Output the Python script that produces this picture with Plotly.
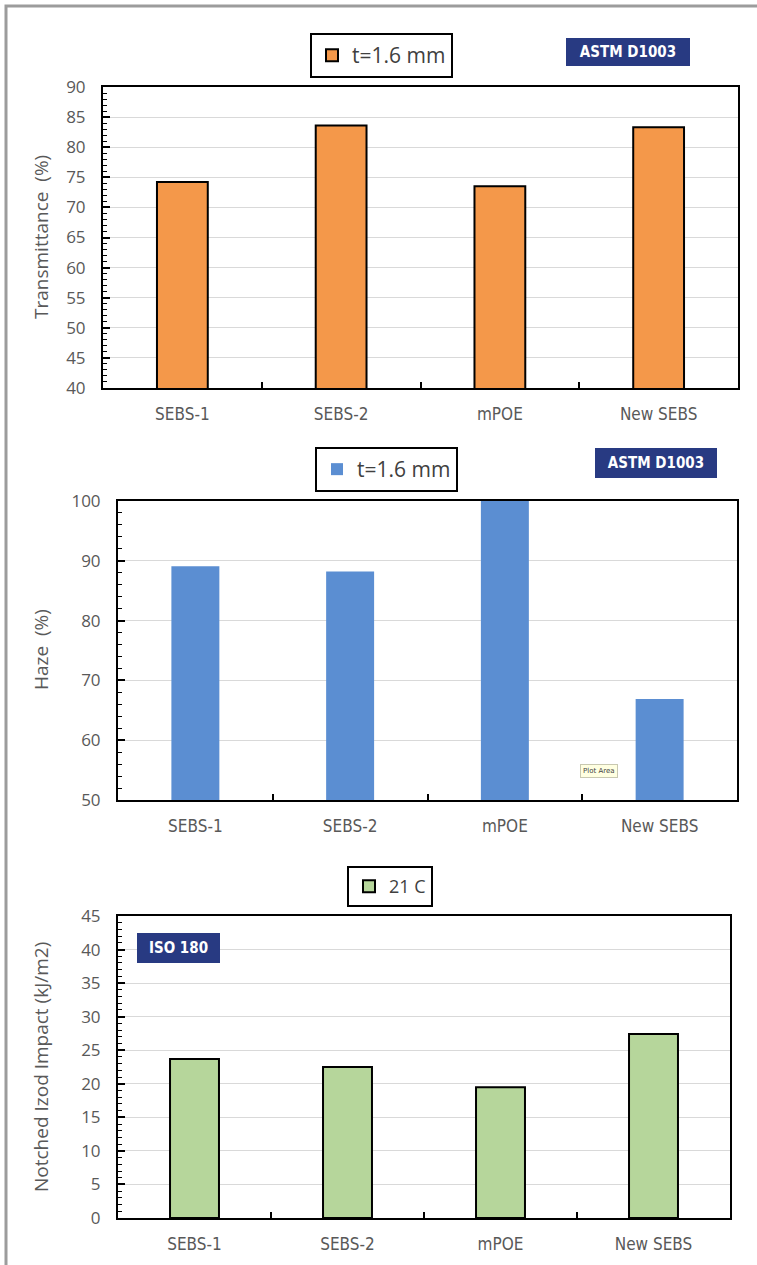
import plotly.graph_objects as go

W, H = 757, 1265

categories = ["SEBS-1", "SEBS-2", "mPOE", "New SEBS"]
transmittance = [74.2, 83.6, 73.5, 83.3]
haze = [89.1, 88.2, 100.0, 66.9]
izod = [23.7, 22.5, 19.5, 27.4]

legend_names = ["t=1.6 mm", "t=1.6 mm", "21 C"]
y_titles = ["Transmittance  (%)", "Haze  (%)", "Notched Izod Impact (kJ/m2)"]


def px(x):
    return x / W


def py(y):
    return 1 - y / H


fig = go.Figure()

fig.add_trace(go.Bar(x=categories, y=transmittance, name=legend_names[0],
                     marker=dict(color="#F4984A", line=dict(color="black", width=2)),
                     width=0.32, xaxis="x", yaxis="y", legend="legend", showlegend=True))
fig.add_trace(go.Bar(x=categories, y=haze, name=legend_names[1],
                     marker=dict(color="#5B8ED2", line=dict(width=0)),
                     width=0.31, xaxis="x2", yaxis="y2", legend="legend2", showlegend=True))
fig.add_trace(go.Bar(x=categories, y=izod, name=legend_names[2],
                     marker=dict(color="#B6D69B", line=dict(color="black", width=2)),
                     width=0.32, xaxis="x3", yaxis="y3", legend="legend3", showlegend=True))

tick_font = dict(family="Open Sans", size=17, color="#595959")
xtick_font = dict(family="Liberation Sans Narrow, DejaVu Sans Condensed", size=17, color="#595959")


def xaxis(domain, anchor):
    return dict(domain=domain, anchor=anchor, type="category",
                showline=True, linecolor="black", linewidth=2, mirror=True,
                ticks="inside", tickson="boundaries", ticklen=6, tickcolor="black",
                tickwidth=2, tickfont=xtick_font, ticklabelstandoff=10,
                showgrid=False, zeroline=False, fixedrange=True, automargin=False)


def yaxis(domain, anchor, rng, dtick, minor):
    return dict(domain=domain, anchor=anchor, range=rng, dtick=dtick,
                showline=True, linecolor="black", linewidth=2, mirror=True,
                ticks="inside", ticklen=7, tickcolor="black", tickwidth=2,
                minor=dict(ticks="inside", dtick=minor, ticklen=4, tickcolor="black",
                           tickwidth=1, showgrid=False),
                tickfont=tick_font, ticklabelstandoff=12,
                showgrid=True, gridcolor="#D9D9D9", gridwidth=1,
                zeroline=False, fixedrange=True, automargin=False)


def legend_common(size):
    return dict(xanchor="left", yanchor="top", xref="paper", yref="paper",
                bordercolor="black", borderwidth=2,
                bgcolor="white", font=dict(family="Open Sans", size=size, color="#404040"),
                itemwidth=30, tracegroupgap=0)


fig.update_layout(
    width=W, height=H,
    margin=dict(l=0, r=0, t=0, b=0, pad=0, autoexpand=False),
    paper_bgcolor="white", plot_bgcolor="white",
    showlegend=True,
    barmode="group",
    xaxis=xaxis([px(103), px(738)], "y"),
    yaxis=yaxis([py(388), py(87)], "x", [40, 90], 5, 1),
    xaxis2=xaxis([px(118), px(737)], "y2"),
    yaxis2=yaxis([py(800), py(501)], "x2", [50, 100], 10, 2),
    xaxis3=xaxis([px(118), px(730)], "y3"),
    yaxis3=yaxis([py(1218), py(916)], "x3", [0, 45], 5, 1),
    legend=dict(x=px(310), y=py(33), **legend_common(21)),
    legend2=dict(x=px(315), y=py(447), **legend_common(21)),
    legend3=dict(x=px(347), y=py(866), **legend_common(18)),
)

# axis titles
for title, yc in zip(y_titles, [237, 650, 1067]):
    fig.add_annotation(text=title, x=px(41), y=py(yc), xref="paper", yref="paper",
                       textangle=-90, showarrow=False, xanchor="center", yanchor="middle",
                       font=dict(family="Open Sans", size=19, color="#595959"))

# standard labels
std_labels = [("ASTM D1003", 628, 52, 124, 28), ("ASTM D1003", 656, 463, 122, 30),
              ("ISO 180", 178.5, 948, 83, 30)]
for txt, xc, yc, w, h in std_labels:
    fig.add_annotation(text="<b>" + txt + "</b>", x=px(xc), y=py(yc), xref="paper", yref="paper",
                       showarrow=False, xanchor="center", yanchor="middle",
                       width=w - 2, height=h - 2, bgcolor="#283A82", bordercolor="#283A82",
                       borderwidth=1, borderpad=0,
                       font=dict(family="Liberation Sans Narrow, DejaVu Sans Condensed",
                                 size=15, color="white"))

# Excel "Plot Area" tooltip artifact
fig.add_annotation(text="Plot Area", x=px(599), y=py(771), xref="paper", yref="paper",
                   showarrow=False, xanchor="center", yanchor="middle",
                   bgcolor="#FFFFE1", bordercolor="#C8C8B0", borderwidth=1, borderpad=2,
                   font=dict(family="DejaVu Sans", size=7, color="#444"))

# outer frame (cut at right / bottom)
fig.add_shape(type="rect", xref="paper", yref="paper",
              x0=px(6), y0=py(6), x1=px(800), y1=py(1320),
              line=dict(color="#9C9C9C", width=3), fillcolor="rgba(0,0,0,0)", layer="below")

fig.write_html("out.html", config={"displayModeBar": False},
               post_script="document.body.style.margin='0';document.body.style.overflow='hidden';")
